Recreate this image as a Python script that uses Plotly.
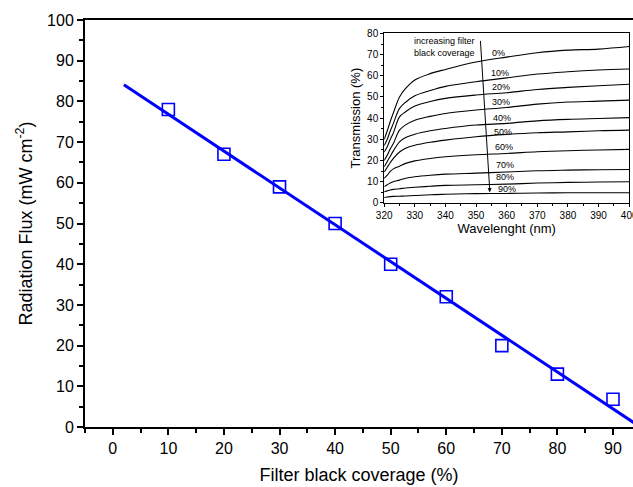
import numpy as np
import plotly.graph_objects as go

# --- Données ------------------------------------------------------------------
coverage = [10, 20, 30, 40, 50, 60, 70, 80, 90]              # %
flux = [78.0, 67.0, 59.0, 50.0, 40.0, 32.0, 20.0, 13.0, 6.8]  # mW cm-2
fit_x = [2, 96]

wavelength = [320, 321, 322, 323, 325, 327, 330, 335, 340, 350, 360, 370, 380, 390, 400]
T_00 = [30, 34, 38.5, 42.5, 50, 54, 58, 61, 63, 66.5, 68.8, 70.9, 72.1, 72.6, 73.8]
T_10 = [27, 30, 34, 37.5, 44.6, 47.5, 50.5, 53, 55, 57.2, 59, 60.8, 61.9, 62.7, 63.2]
T_20 = [24, 26.5, 30, 33, 40.6, 43, 45.7, 47.8, 49.3, 50.9, 52, 53.5, 54.5, 55.3, 56]
T_30 = [20, 22.5, 25.5, 28, 34.3, 36.8, 39, 40.8, 42.2, 43.8, 45, 46.6, 47.6, 48, 48.5]
T_40 = [17, 19.5, 22, 24.5, 28.8, 30.8, 32.4, 34, 35.1, 36.7, 37.5, 38.7, 39.4, 39.8, 40.2]
T_50 = [14.5, 16.8, 19, 21, 24, 25.8, 27.2, 28.6, 29.6, 31.2, 32.3, 33.1, 33.5, 34, 34.3]
T_60 = [11.5, 13, 14.8, 16, 17.3, 18.6, 19.8, 20.9, 21.7, 22.7, 23.3, 24.1, 24.6, 24.9, 25.2]
T_70 = [7.6, 8.5, 9.3, 9.9, 10.7, 11.6, 12.3, 13, 13.5, 14, 14.5, 15.1, 15.4, 15.6, 15.7]
T_80 = [5.2, 5.6, 6.0, 6.3, 6.6, 7.0, 7.3, 7.8, 8.2, 8.5, 8.8, 9.3, 9.6, 9.8, 9.9]
T_90 = [2.5, 2.7, 2.9, 3.0, 3.1, 3.2, 3.4, 3.8, 4.0, 4.3, 4.4, 4.6, 4.7, 4.7, 4.7]
curves = [T_00, T_10, T_20, T_30, T_40, T_50, T_60, T_70, T_80, T_90]

pct_labels = ["0%", "10%", "20%", "30%", "40%", "50%", "60%", "70%", "80%", "90%"]
pct_x = [354.7, 354.3, 354.5, 354.7, 355.0, 355.2, 355.5, 356.0, 356.0, 356.5]
pct_y = [70.9, 61.4, 54.5, 47.7, 40.2, 33.2, 26.5, 18.0, 12.3, 6.3]

FONT = "Arial, Liberation Sans, sans-serif"
BLUE = "#0000ff"

fig = go.Figure()

# Droite d'ajustement
a, b = np.polyfit(coverage, flux, 1)
fx = np.array(fit_x, dtype=float)
fig.add_trace(go.Scatter(x=fx, y=a * fx + b, mode="lines",
                         line=dict(color=BLUE, width=3), showlegend=False,
                         cliponaxis=True))
fig.add_trace(go.Scatter(x=coverage, y=flux, mode="markers",
                         marker=dict(symbol="square-open", size=12, color=BLUE,
                                     line=dict(width=1.6, color=BLUE)),
                         showlegend=False))

# Encart : spectres de transmission
for t in curves:
    fig.add_trace(go.Scatter(x=wavelength, y=t, mode="lines", xaxis="x2", yaxis="y2",
                             line=dict(color="black", width=1.1, shape="spline"),
                             showlegend=False))

axis_main = dict(showgrid=False, zeroline=False, showline=True, linecolor="black",
                 linewidth=2, ticks="outside", ticklen=6, tickwidth=1.5,
                 tickcolor="black", tickfont=dict(size=16, color="black"),
                 minor=dict(ticks="outside", ticklen=4, tickwidth=1.5,
                            tickcolor="black", dtick=5))
axis_inset = dict(showgrid=False, zeroline=False, showline=True, linecolor="black",
                  linewidth=1, mirror=True, ticks="outside", ticklen=3, tickwidth=1,
                  tickcolor="black", tickfont=dict(size=10, color="black"),
                  minor=dict(ticks="outside", ticklen=2, tickwidth=1,
                             tickcolor="black", dtick=5))

fig.update_layout(
    width=633, height=487,
    margin=dict(l=85, r=0, t=20, b=60),
    plot_bgcolor="white", paper_bgcolor="white",
    font=dict(family=FONT, color="black"),
    xaxis=dict(axis_main, range=[-5, 93.6], dtick=10, tick0=0, mirror=True,
               title=dict(text="Filter black coverage (%)", font=dict(size=18),
                          standoff=12)),
    yaxis=dict(axis_main, range=[0, 100], dtick=10,
               title=dict(text="Radiation Flux (mW cm<sup>-2</sup>)",
                          font=dict(size=18), standoff=10)),
    xaxis2=dict(axis_inset, domain=[0.546, 0.993], anchor="y2", range=[320, 400],
                dtick=10, ticklabeloverflow="allow", automargin=False,
                title=dict(text="Wavelenght (nm)", font=dict(size=13), standoff=2)),
    yaxis2=dict(axis_inset, domain=[0.551, 0.967], anchor="x2", range=[0, 80],
                dtick=10,
                title=dict(text="Transmission (%)", font=dict(size=13), standoff=3)),
)

# Flèche et textes de l'encart
fig.add_annotation(x=354.5, y=5.0, ax=351.4, ay=77.2, xref="x2", yref="y2",
                   axref="x2", ayref="y2", showarrow=True, arrowhead=2,
                   arrowsize=0.8, arrowwidth=1, arrowcolor="black", text="")
fig.add_annotation(x=329.2, y=73.5, xref="x2", yref="y2", showarrow=False,
                   xanchor="left", yanchor="middle", align="left",
                   text="increasing filter<br>black coverage",
                   font=dict(size=9, color="black"))
for lab, lx, ly in zip(pct_labels, pct_x, pct_y):
    fig.add_annotation(x=lx, y=ly, xref="x2", yref="y2", showarrow=False,
                       xanchor="left", yanchor="middle", text=lab,
                       font=dict(size=9, color="black"))

# marge par défaut du <body> (8 px) retirée pour coller au cadrage 633x487
fig.write_html("out.html", config={"displayModeBar": False},
               post_script="document.body.style.margin='0';")
